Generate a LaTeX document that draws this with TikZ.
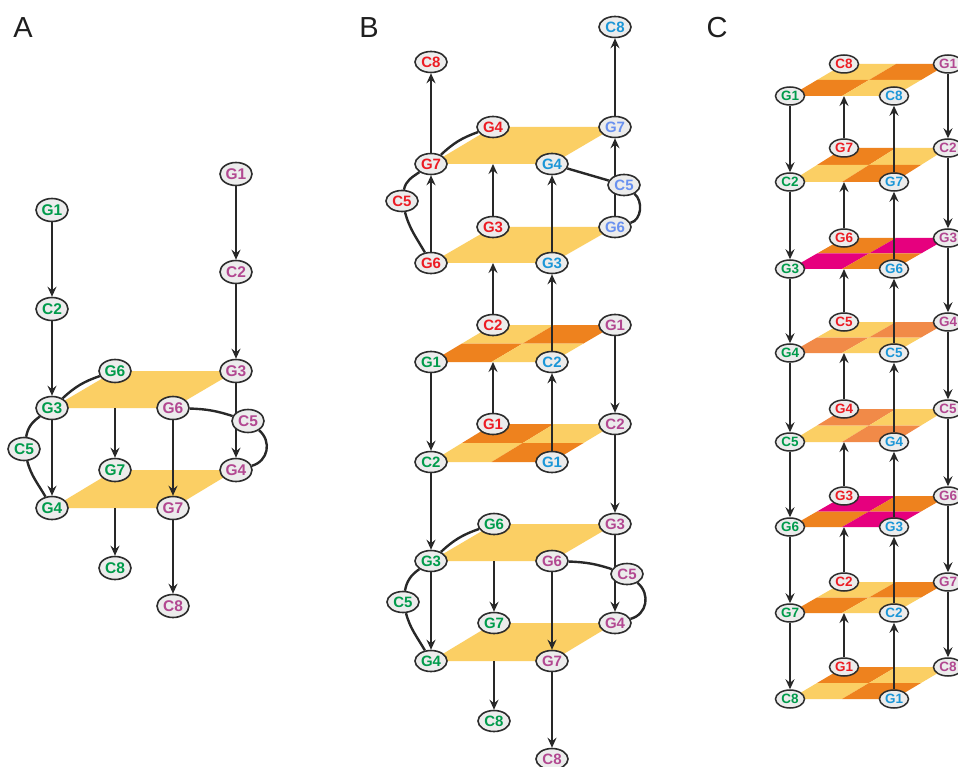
\documentclass[tikz,border=0pt]{standalone}
\usepackage{fontspec}
\setmainfont{Liberation Sans}
\usetikzlibrary{shapes.geometric,arrows.meta,calc}
\pgfdeclarelayer{bg}
\pgfsetlayers{bg,main}
\definecolor{cgreen}{RGB}{0,155,75}
\definecolor{cpur}{RGB}{178,72,145}
\definecolor{cred}{RGB}{236,28,36}
\definecolor{cblue}{RGB}{27,150,215}
\definecolor{clb}{RGB}{105,145,240}
\definecolor{ndf}{RGB}{236,236,236}
\definecolor{ndb}{RGB}{45,45,45}
\definecolor{lc}{RGB}{40,40,40}
\definecolor{cyel}{RGB}{251,207,100}
\definecolor{cora}{RGB}{238,130,30}
\definecolor{csal}{RGB}{241,138,72}
\definecolor{cmag}{RGB}{230,0,126}
\tikzset{
 ndbase/.style={ellipse, draw=ndb, fill=ndf, line width=1.6pt, inner sep=0pt},
 ndA/.style={ndbase, minimum width=32pt, minimum height=23pt, font=\fontsize{15.5}{15.5}\selectfont\bfseries},
 ndB/.style={ndbase, minimum width=32pt, minimum height=21pt, font=\fontsize{15}{15}\selectfont\bfseries},
 ndC/.style={ndbase, minimum width=29pt, minimum height=18pt, line width=1.5pt, font=\fontsize{13.5}{13.5}\selectfont\bfseries},
 ln/.style={draw=lc, line width=2.4pt},
 ar/.style={ln, -{Stealth[length=10pt,width=9pt,inset=3.5pt]}},
 panel/.style={font=\fontsize{29}{29}\selectfont, text=black!88, inner sep=0pt},
}
\newcommand{\plane}[5]{%
 \fill[#5] (#1.center) -- (#2.center) -- (#3.center) -- (#4.center) -- cycle;}
\newcommand{\checker}[8]{%
 \coordinate (m1) at ($(#1.center)!0.5!(#2.center)$);
 \coordinate (m2) at ($(#2.center)!0.5!(#3.center)$);
 \coordinate (m3) at ($(#3.center)!0.5!(#4.center)$);
 \coordinate (m4) at ($(#4.center)!0.5!(#1.center)$);
 \coordinate (mc) at ($(m1)!0.5!(m3)$);
 \fill[#5] (m1) -- (#2.center) -- (m2) -- (mc) -- cycle;
 \fill[#6] (m2) -- (#3.center) -- (m3) -- (mc) -- cycle;
 \fill[#7] (#1.center) -- (m1) -- (mc) -- (m4) -- cycle;
 \fill[#8] (m4) -- (mc) -- (m3) -- (#4.center) -- cycle;}
\newcommand{\gpcluster}[2]{%
 \node[#2,text=cgreen] (#1G6g) at (115,-371) {G6};
 \node[#2,text=cgreen] (#1G3g) at (52,-408) {G3};
 \node[#2,text=cgreen] (#1C5g) at (24,-449) {C5};
 \node[#2,text=cgreen] (#1G7g) at (115,-470) {G7};
 \node[#2,text=cgreen] (#1G4g) at (52,-508) {G4};
 \node[#2,text=cgreen] (#1C8g) at (115,-568) {C8};
 \node[#2,text=cpur] (#1G3p) at (236,-371) {G3};
 \node[#2,text=cpur] (#1G6p) at (173,-408) {G6};
 \node[#2,text=cpur] (#1C5p) at (248,-421) {C5};
 \node[#2,text=cpur] (#1G4p) at (236,-470) {G4};
 \node[#2,text=cpur] (#1G7p) at (173,-508) {G7};
 \node[#2,text=cpur] (#1C8p) at (173,-606) {C8};
 \begin{pgfonlayer}{bg}
 \plane{#1G3g}{#1G6g}{#1G3p}{#1G6p}{cyel}
 \plane{#1G4g}{#1G7g}{#1G4p}{#1G7p}{cyel}
 \draw[ar] (#1G3g) -- (#1G4g);
 \draw[ln] (#1G3g) to[bend left=12] (#1G6g);
 \draw[ln] (#1G3g) to[out=215,in=80] (#1C5g);
 \draw[ln] (#1C5g) to[out=-75,in=120] (#1G4g);
 \draw[ar] (#1G7g |- #1G3g) -- (#1G7g);
 \draw[ar] (#1C8g |- #1G4g) -- (#1C8g);
 \draw[ar] (#1G6p) -- (#1G7p);
 \draw[ar] (#1G7p) -- (#1C8p);
 \draw[ar] (#1G3p) -- (#1G4p);
 \draw[ln] (#1G6p) to[bend left=8] (#1C5p);
 \draw[ln] (#1C5p) to[out=-40,in=15,looseness=1.2] (#1G4p);
 \end{pgfonlayer}}
\begin{document}
\begin{tikzpicture}[x=1pt,y=1pt]
\useasboundingbox (0,0) rectangle (958,-767);
\begin{pgfonlayer}{bg}
\fill[white] (0,0) rectangle (958,-767);
\end{pgfonlayer}
\node[panel] (labA) at (23,-28) {A};
\node[panel] (labB) at (369,-28) {B};
\node[panel] (labC) at (717,-28) {C};
% ---------------- Panel A
\node[ndA,text=cgreen] (aG1g) at (52,-210) {G1};
\node[ndA,text=cgreen] (aC2g) at (52,-309) {C2};
\node[ndA,text=cpur] (aG1p) at (236,-174) {G1};
\node[ndA,text=cpur] (aC2p) at (236,-272) {C2};
\gpcluster{a}{ndA}
\begin{pgfonlayer}{bg}
\draw[ar] (aG1g) -- (aC2g);
\draw[ar] (aC2g) -- (aG3g);
\draw[ar] (aG1p) -- (aC2p);
\draw[ar] (aC2p) -- (aG3p);
\end{pgfonlayer}
% ---------------- Panel B top
\node[ndB,text=cred] (bC8r) at (431,-62) {C8};
\node[ndB,text=cred] (bG4r) at (493,-127) {G4};
\node[ndB,text=cred] (bG7r) at (431,-164) {G7};
\node[ndB,text=cred] (bC5r) at (402,-201) {C5};
\node[ndB,text=cred] (bG3r) at (493,-227) {G3};
\node[ndB,text=cred] (bG6r) at (431,-263) {G6};
\node[ndB,text=cblue] (bC8b) at (615,-27) {C8};
\node[ndB,text=clb] (bG7l) at (615,-127) {G7};
\node[ndB,text=cblue] (bG4b) at (552,-164) {G4};
\node[ndB,text=clb] (bC5l) at (624,-185) {C5};
\node[ndB,text=clb] (bG6l) at (615,-227) {G6};
\node[ndB,text=cblue] (bG3b) at (552,-263) {G3};
% ---------------- Panel B middle
\node[ndB,text=cred] (bC2r) at (493,-325) {C2};
\node[ndB,text=cpur] (bG1p) at (615,-325) {G1};
\node[ndB,text=cgreen] (bG1g) at (431,-362) {G1};
\node[ndB,text=cblue] (bC2b) at (552,-362) {C2};
\node[ndB,text=cred] (bG1r) at (493,-424) {G1};
\node[ndB,text=cpur] (bC2p) at (615,-424) {C2};
\node[ndB,text=cgreen] (bC2g) at (431,-462) {C2};
\node[ndB,text=cblue] (bG1b) at (552,-462) {G1};
% ---------------- Panel B bottom
\begin{scope}[shift={(379,-153)}]
\gpcluster{d}{ndB}
\end{scope}
\begin{pgfonlayer}{bg}
\plane{bG7r}{bG4r}{bG7l}{bG4b}{cyel}
\plane{bG6r}{bG3r}{bG6l}{bG3b}{cyel}
\checker{bG1g}{bC2r}{bG1p}{bC2b}{cyel}{cora}{cora}{cyel}
\checker{bC2g}{bG1r}{bC2p}{bG1b}{cora}{cyel}{cyel}{cora}
\draw[ar] (bG7r) -- (bC8r);
\draw[ar] (bG6r) -- (bG7r);
\draw[ln] (bG7r) to[bend left=12] (bG4r);
\draw[ln] (bG7r) to[out=215,in=80] (bC5r);
\draw[ln] (bC5r) to[out=-75,in=120] (bG6r);
\draw[ar] (bG3r) -- (bG3r |- bG7r);
\draw[ar] (bC2r) -- (bC2r |- bG6r);
\draw[ar] (bG3b) -- (bG4b);
\draw[ln] (bG4b) -- (bC5l);
\draw[ln] (bC5l) to[out=-40,in=15] (bG6l);
\draw[ar] (bG6l) -- (bG7l);
\draw[ar] (bG7l) -- (bC8b);
\draw[ar] (bG1r) -- (bG1r |- bG1g);
\draw[ar] (bG1b) -- (bC2b);
\draw[ar] (bC2b) -- (bG3b);
\draw[ar] (bG1g) -- (bC2g);
\draw[ar] (bG1p) -- (bC2p);
\draw[ar] (bC2g) -- (dG3g);
\draw[ar] (bC2p) -- (dG3p);
\end{pgfonlayer}
% ---------------- Panel C
\foreach \k/\yb/\yf/\r/\p/\g/\b in {1/64/96/C8/G1/G1/C8, 2/148/182/G7/C2/C2/G7, 3/238/269/G6/G3/G3/G6, 4/322/353/C5/G4/G4/C5, 5/409/442/G4/C5/C5/G4, 6/496/527/G3/G6/G6/G3, 7/582/613/C2/G7/G7/C2, 8/667/699/G1/C8/C8/G1}{
 \node[ndC,text=cred] (cB\k) at (844,-\yb) {\r};
 \node[ndC,text=cpur] (cP\k) at (948,-\yb) {\p};
 \node[ndC,text=cgreen] (cF\k) at (790,-\yf) {\g};
 \node[ndC,text=cblue] (cR\k) at (894,-\yf) {\b};
}
\begin{pgfonlayer}{bg}
\checker{cF1}{cB1}{cP1}{cR1}{cyel}{cora}{cora}{cyel}
\checker{cF2}{cB2}{cP2}{cR2}{cora}{cyel}{cyel}{cora}
\checker{cF3}{cB3}{cP3}{cR3}{cora}{cmag}{cmag}{cora}
\checker{cF4}{cB4}{cP4}{cR4}{cyel}{csal}{csal}{cyel}
\checker{cF5}{cB5}{cP5}{cR5}{csal}{cyel}{cyel}{csal}
\checker{cF6}{cB6}{cP6}{cR6}{cmag}{cora}{cora}{cmag}
\checker{cF7}{cB7}{cP7}{cR7}{cyel}{cora}{cora}{cyel}
\checker{cF8}{cB8}{cP8}{cR8}{cora}{cyel}{cyel}{cora}
\foreach \k/\n in {1/2,2/3,3/4,4/5,5/6,6/7,7/8}{
 \draw[ar] (cF\k) -- (cF\n);
 \draw[ar] (cP\k) -- (cP\n);
 \draw[ar] (cR\n) -- (cR\k);
 \draw[ar] (cB\n) -- (cB\n |- cF\k);
}
\end{pgfonlayer}
\end{tikzpicture}
\end{document}
